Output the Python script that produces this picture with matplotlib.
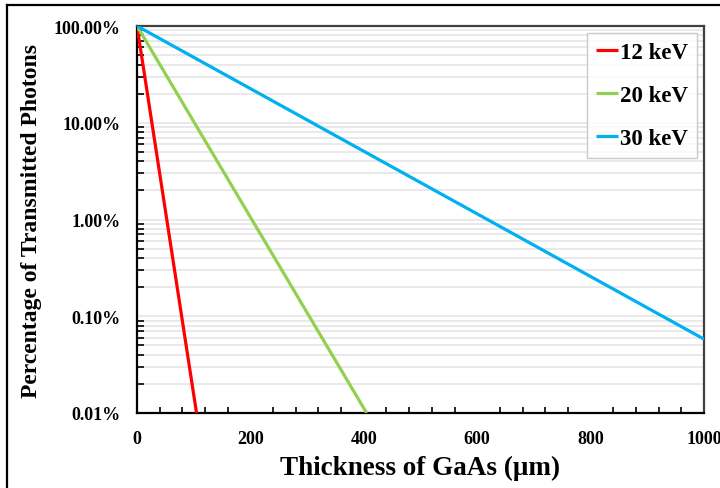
import matplotlib
matplotlib.use("Agg")
import matplotlib.pyplot as plt
from matplotlib.lines import Line2D
from matplotlib.ticker import FixedLocator, FuncFormatter, LogLocator, NullFormatter

# Transmission through GaAs: straight lines on a log axis (thickness in µm, transmission in %)
energies = ["12 keV", "20 keV", "30 keV"]
thickness_12 = [0, 105]
percent_12 = [100.0, 0.01]
thickness_20 = [0, 405]
percent_20 = [100.0, 0.01]
thickness_30 = [0, 1000]
percent_30 = [100.0, 0.058]
colors = ["#ff0000", "#92d050", "#00b0f0"]

x_major = [0, 200, 400, 600, 800, 1000]
y_major = [0.01, 0.1, 1.0, 10.0, 100.0]

plt.rcParams["font.family"] = ["Liberation Serif", "DejaVu Serif"]
plt.rcParams["font.weight"] = "bold"

fig = plt.figure(figsize=(7.2, 4.89), dpi=100)
W, H = 720, 489
ax = fig.add_axes([137 / W, 1 - 414 / H, (704 - 137) / W, (414 - 27) / H])

# outer frame around the figure
fig.add_artist(Line2D([7 / W, 7 / W], [0, 1 - 6 / H], transform=fig.transFigure,
                      color="black", lw=1.6))
fig.add_artist(Line2D([7 / W, 1], [1 - 6 / H, 1 - 6 / H], transform=fig.transFigure,
                      color="black", lw=1.6))

series = [(thickness_12, percent_12), (thickness_20, percent_20), (thickness_30, percent_30)]
for (xs, ys), lab, c in zip(series, energies, colors):
    ax.plot(xs, ys, color=c, lw=2.3, label=lab, solid_capstyle="butt", zorder=3)

ax.set_yscale("log")
ax.set_xlim(0, 1000)
ax.set_ylim(0.01, 100)

ax.xaxis.set_major_locator(FixedLocator(x_major))
ax.xaxis.set_minor_locator(FixedLocator(list(range(0, 1001, 40))))
ax.yaxis.set_major_locator(FixedLocator(y_major))
ax.yaxis.set_minor_locator(LogLocator(base=10, subs=range(2, 10)))
ax.yaxis.set_minor_formatter(NullFormatter())
ax.yaxis.set_major_formatter(FuncFormatter(lambda v, p: f"{v:.2f}%"))

ax.grid(True, which="both", axis="y", color="#e3e3e3", lw=1.1, zorder=0)
ax.set_axisbelow(True)

ax.tick_params(axis="both", which="both", direction="in", width=1.2, color="black")
ax.tick_params(axis="x", which="major", length=0, labelsize=13, pad=12)
ax.tick_params(axis="x", which="minor", length=4)
ax.tick_params(axis="y", which="major", length=0, labelsize=13, pad=12)
ax.tick_params(axis="y", which="minor", length=5)
for lbl in ax.get_xticklabels() + ax.get_yticklabels():
    lbl.set_fontweight("bold")

ax.spines["left"].set_color("black")
ax.spines["bottom"].set_color("black")
ax.spines["left"].set_linewidth(1.6)
ax.spines["bottom"].set_linewidth(1.6)
ax.spines["top"].set_color("#404040")
ax.spines["right"].set_color("#404040")
ax.spines["top"].set_linewidth(1.6)
ax.spines["right"].set_linewidth(1.6)

ax.set_xlabel("Thickness of GaAs (\u03bcm)", fontsize=19.5, fontweight="bold", labelpad=6)
ax.set_ylabel("Percentage of Transmitted Photons", fontsize=17, fontweight="bold", labelpad=8)

leg = ax.legend(loc="upper right", fontsize=16.5, frameon=True, fancybox=False,
                edgecolor="#bfbfbf", handlelength=0.95, handletextpad=0.1,
                labelspacing=0.95, borderpad=0.4, borderaxespad=0.3)
leg.get_frame().set_linewidth(1.0)
for t in leg.get_texts():
    t.set_fontweight("bold")

fig.savefig("out.png", dpi=100, facecolor="white")
